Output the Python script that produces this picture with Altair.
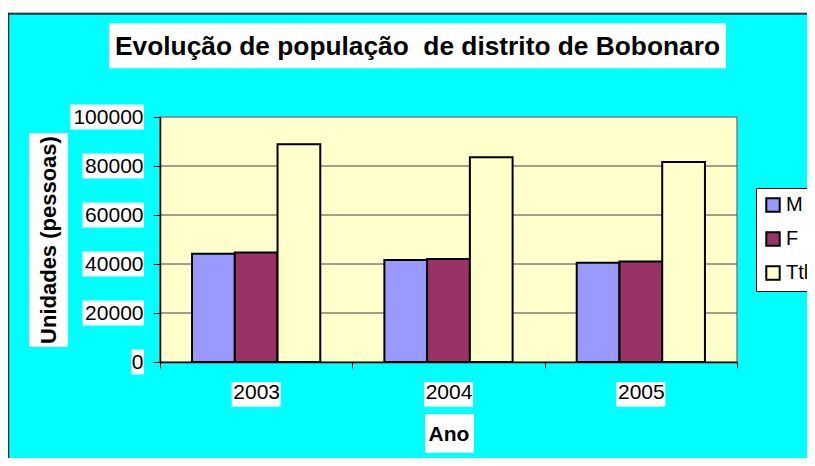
import altair as alt
import pandas as pd

# ---- data ----
anos = ["2003", "2004", "2005"]
series = ["M", "F", "Ttl"]
m_vals = [44200, 41600, 40500]
f_vals = [44700, 42000, 41000]
ttl_vals = [88900, 83600, 81600]
y_ticks = [0, 20000, 40000, 60000, 80000, 100000]
colors = ["#9999FF", "#993366", "#FFFFCC"]

title_text = "Evolução de população\u00a0 de distrito de Bobonaro"
y_title = "Unidades (pessoas)"
x_title = "Ano"
FONT = "Liberation Sans"

W, H = 577, 245

rows = []
for i, a in enumerate(anos):
    for s, vals in zip(series, [m_vals, f_vals, ttl_vals]):
        rows.append({"ano": a, "serie": s, "valor": vals[i]})
df = pd.DataFrame(rows)

one = pd.DataFrame({"k": [0]})


def box(x1, x2, y1, y2, fill="white"):
    return alt.Chart(one).mark_rect(fill=fill).encode(
        x=alt.value(x1), x2=alt.value(x2), y=alt.value(y1), y2=alt.value(y2)
    )


# decorative elements (outside the plot area)
title_box = box(-51, 566, -93.7, -48.7)
top_strip = box(-152, 660, -110, -104.3)
ytitle_box = box(-131, -92, 16, 230)
xtitle_box = box(265, 314, 297, 335.7)
top_rule = alt.Chart(one).mark_rule(color="#333333", strokeWidth=2).encode(
    x=alt.value(-152), x2=alt.value(660), y=alt.value(-103.3)
)
left_rule = alt.Chart(one).mark_rule(color="#333333", strokeWidth=2).encode(
    x=alt.value(-151.7), y=alt.value(-104.3), y2=alt.value(360)
)
title_mark = alt.Chart(one).mark_text(
    font=FONT, fontSize=26.3, fontWeight="bold", color="black",
    align="center", baseline="alphabetic",
).encode(x=alt.value(257.5), y=alt.value(-62), text=alt.value(title_text))

# white boxes behind y tick labels
ylab_layers = []
for n in sorted(set(len(str(t)) for t in y_ticks)):
    vals = [t for t in y_ticks if len(str(t)) == n]
    left = -16.5 - 12.2 * n
    ylab_layers.append(
        alt.Chart(pd.DataFrame({"valor": vals}))
        .mark_rect(fill="white", yOffset=-12.5, y2Offset=12.5)
        .encode(x=alt.value(left), x2=alt.value(-16), y="valor:Q", y2="valor")
    )

# white boxes behind x tick labels
xlab_boxes = alt.Chart(pd.DataFrame({"ano": anos})).mark_bar(fill="white", width=49).encode(
    x=alt.X("ano:N", sort=anos), y=alt.value(265), y2=alt.value(289.7)
)

# gridlines
grid = alt.Chart(pd.DataFrame({"valor": [t for t in y_ticks if 0 < t < 100000]})).mark_rule(
    color="#404040", strokeWidth=1
).encode(y="valor:Q", x=alt.value(0), x2=alt.value(W))

bars = alt.Chart(df).mark_bar(stroke="black", strokeWidth=2).encode(
    x=alt.X(
        "ano:N",
        sort=anos,
        scale=alt.Scale(paddingInner=0, paddingOuter=0),
        axis=alt.Axis(
            title=x_title,
            labelAngle=0,
            labelAlign="center",
            grid=False,
            zindex=1,
            tickBand="extent",
            tickSize=6,
            tickColor="black",
            domainColor="black",
            domainWidth=1.5,
            labelFont=FONT,
            labelFontSize=21,
            labelColor="black",
            labelPadding=24,
            titleFont=FONT,
            titleFontSize=21,
            titleFontWeight="bold",
            titleColor="black",
            titleX=288.5,
            titleY=78,
            titleBaseline="alphabetic",
        ),
    ),
    xOffset=alt.XOffset(
        "serie:N", sort=series, scale=alt.Scale(domain=series, paddingInner=0, paddingOuter=0.75)
    ),
    y=alt.Y(
        "valor:Q",
        scale=alt.Scale(domain=[0, 100000], nice=False),
        axis=alt.Axis(
            title=y_title,
            values=y_ticks,
            format="d",
            grid=False,
            zindex=1,
            tickSize=7,
            tickColor="black",
            domainColor="black",
            domainWidth=1.5,
            labelFont=FONT,
            labelFontSize=21,
            labelColor="black",
            labelPadding=10,
            titleFont=FONT,
            titleFontSize=22,
            titleFontWeight="bold",
            titleColor="black",
            titleAngle=270,
            titleX=-105,
            titleY=122.5,
            titleAlign="center",
            titleBaseline="alphabetic",
        ),
    ),
    color=alt.Color(
        "serie:N",
        sort=series,
        scale=alt.Scale(domain=series, range=colors),
        legend=alt.Legend(
            title=None,
            orient="none",
            legendX=596,
            legendY=71,
            padding=7,
            fillColor="white",
            strokeColor="black",
            cornerRadius=0,
            symbolType="square",
            symbolSize=180,
            symbolStrokeColor="black",
            symbolStrokeWidth=2,
            symbolOpacity=1,
            labelFont=FONT,
            labelFontSize=20,
            labelColor="black",
            labelOffset=3,
            rowPadding=12,
        ),
    ),
)

chart = (
    alt.layer(
        top_strip, top_rule, left_rule, title_box, ytitle_box, xtitle_box,
        *ylab_layers, xlab_boxes, grid, bars, title_mark,
    )
    .properties(
        width=W,
        height=H,
        autosize=alt.AutoSizeParams(type="none"),
        padding={"left": 152, "top": 109, "right": 70, "bottom": 96},
    )
    .configure(background="#00FFFF")
    .configure_view(fill="#FFFFCC", stroke="#808080", strokeWidth=1.5)
)

chart.save("out.html", embed_options={"renderer": "svg", "actions": False})
